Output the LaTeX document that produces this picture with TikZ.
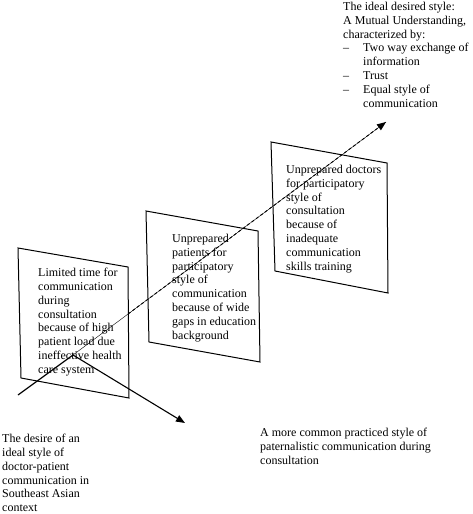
\documentclass[tikz,border=0pt]{standalone}
\usepackage{fontspec}
\setmainfont{Liberation Serif}
\usetikzlibrary{arrows.meta,calc}

\begin{document}
\begin{tikzpicture}[x=1pt,y=-1pt,
    panel/.style={draw, line width=1pt},
    txt/.style={anchor=north west, inner sep=0pt, align=left, font=\fontsize{12}{13.8}\selectfont},
    tip/.style={-{Triangle[length=9pt,width=7pt]}}]
            \useasboundingbox (0,0) rectangle (473,514);

            % the three panels
            \draw[panel] (18,248) -- (128,267) -- (129,398) -- (21,378) -- cycle;
            \draw[panel] (146,211) -- (258,231) -- (260,362) -- (149,342) -- cycle;
            \draw[panel] (271,142) -- (387,163) -- (388,293) -- (275,271) -- cycle;

            \node (time) at (38,268) [txt]{Limited time for\\communication\\during\\consultation\\because of high\\patient load due\\ineffective health\\care system};
            \node (patients) at (172,234) [txt]{Unprepared\\patients for\\participatory\\style of\\communication\\because of wide\\gaps in education\\background};
            \node (doctors) at (286,165) [txt]{Unprepared doctors\\for participatory\\style of\\consultation\\because of\\inadequate\\communication\\skills training};

            \node (ideal) at (343,2) [txt]{The ideal desired style:\\A Mutual Understanding,\\characterized by:\\
                \makebox[20pt][l]{--}Two way exchange of\\\hspace*{20pt}information\\
                \makebox[20pt][l]{--}Trust\\
                \makebox[20pt][l]{--}Equal style of\\\hspace*{20pt}communication};
            \node (desire) at (2,434) [txt]{The desire of an\\ideal style of\\doctor-patient\\communication in\\Southeast Asian\\context};
            \node (common) at (260,428) [txt]{A more common practiced style of\\paternalistic communication during\\consultation};

            \coordinate (start) at (18,395);
            \coordinate (split) at (73,355);
            \coordinate (goal) at (386,122);
            \coordinate (usual) at (185,423);
            \coordinate (exit) at ($(split)!0.176!(goal)$);

            \draw[line width=1.2pt] (start) -- (split);
            \draw[line width=0.4pt] (split) -- (goal);
            \draw[tip, line width=0.9pt, dash pattern=on 3pt off 2.5pt] (exit) -- (goal);
            \draw[tip, line width=1.1pt] (split) -- (usual);
        \end{tikzpicture}
\end{document}
